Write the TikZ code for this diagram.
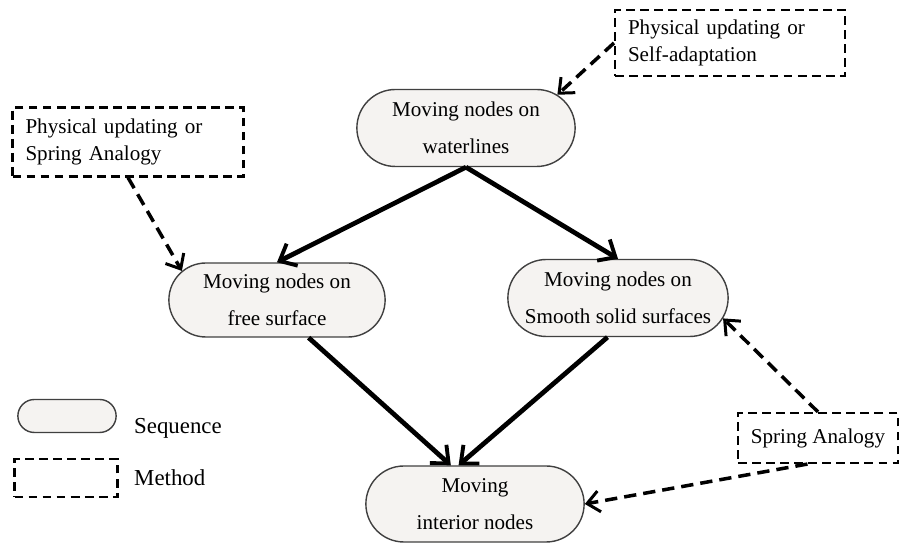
\documentclass[tikz,border=0pt]{standalone}
\usepackage{fontspec}
\setmainfont{Liberation Serif}
\usetikzlibrary{shapes.misc, arrows.meta}
\definecolor{seqfill}{RGB}{245,243,241}

\begin{document}
\begin{tikzpicture}[
        x=0.02cm, y=-0.02cm,
        seq/.style={rounded rectangle, draw=black!75, line width=0.8pt, fill=seqfill,
            minimum width=4.6cm, minimum height=1.54cm, align=center,
            font=\fontsize{12}{21}\selectfont},
        meth/.style={draw, dash pattern=on 5pt off 3pt, line width=1.2pt,
            inner xsep=0.26cm, align=left, font=\fontsize{12}{15}\selectfont},
        flow/.style={-{Straight Barb[length=8pt,width=14pt,line width=2.2pt]}, line width=2.7pt},
        hint/.style={-{Straight Barb[length=7pt,width=12pt,line width=1.7pt]},
            dash pattern=on 7pt off 4pt, line width=2pt}]

        \useasboundingbox (0,0) rectangle (907,546);

        % sequence
        \node[seq] (wl) at (466,128) {Moving nodes on\\waterlines};
        \node[seq, minimum width=4.56cm, minimum height=1.48cm] (fs) at (277,300) {Moving nodes on\\free surface};
        \node[seq, minimum width=4.64cm] (ss) at (618,298) {Moving nodes on\\Smooth solid surfaces};
        \node[seq, minimum height=1.52cm] (in) at (475,504) {Moving\\interior nodes};

        % methods
        \node[meth, text width=4.08cm, minimum height=1.32cm] (mt) at (730,43) {Physical updating or\\Self-adaptation};
        \node[meth, text width=4.1cm, minimum height=1.38cm] (ml) at (128,142) {Physical updating or\\Spring Analogy};
        \node[meth, minimum width=3.2cm, minimum height=1cm] (sa) at (818,438) {Spring Analogy};

        % legend
        \node[seq, minimum width=2.2cm, minimum height=0.66cm] (legseq) at (67,416) {};
        \node[anchor=west, font=\fontsize{13}{15}\selectfont] (seqtext) at (128,428) {Sequence};
        \node[meth, minimum width=2.06cm, minimum height=0.76cm] (legmeth) at (66,478) {};
        \node[anchor=west, font=\fontsize{13}{15}\selectfont] (methtext) at (128,478) {Method};

        \draw[flow] (wl.south) -- (fs.north);
        \draw[flow] (wl.south) -- (ss.north);
        \draw[flow] (fs.-50) -- (in.122);
        \draw[flow] (ss.-105) -- (in.113);

        \draw[hint] (mt.west) -- (wl.20);
        \draw[hint] (ml.south) -- (fs.163);
        \draw[hint] (sa.north) -- (ss.-11);
        \draw[hint] (sa.-112) -- (in.east);

    \end{tikzpicture}
\end{document}
